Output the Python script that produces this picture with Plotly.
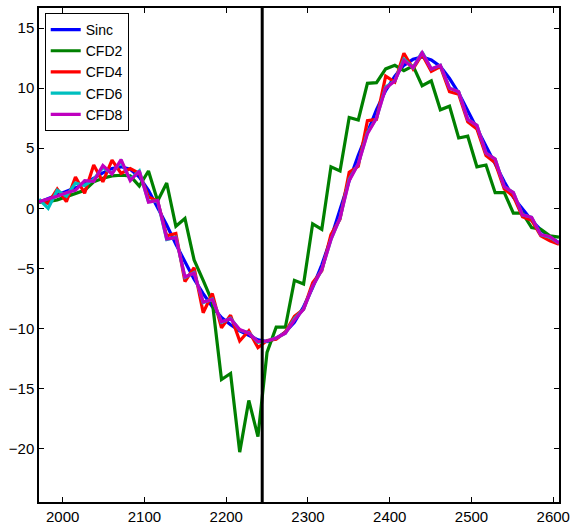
import plotly.graph_objects as go

x = [1971.0, 1982.2, 1993.3, 2004.5, 2015.6, 2026.8, 2037.9, 2049.1, 2060.3, 2071.4,
     2082.6, 2093.7, 2104.9, 2116.1, 2127.2, 2138.4, 2149.5, 2160.7, 2171.8, 2183.0,
     2194.2, 2205.3, 2216.5, 2227.6, 2238.8, 2249.9, 2261.1, 2272.3, 2283.4, 2294.6,
     2305.7, 2316.9, 2328.1, 2339.2, 2350.4, 2361.5, 2372.7, 2383.8, 2395.0, 2406.2,
     2417.3, 2428.5, 2439.6, 2450.8, 2461.9, 2473.1, 2484.3, 2495.4, 2506.6, 2517.7,
     2528.9, 2540.1, 2551.2, 2562.4, 2573.5, 2584.7, 2595.8, 2607.0]

sinc = [0.5, 0.8, 1.05, 1.35, 1.7, 2.05, 2.5, 2.95, 3.3, 3.45,
        3.25, 2.6, 1.5, 0.1, -1.4, -3.0, -4.5, -5.9, -7.1, -8.2,
        -9.1, -9.7, -10.2, -10.6, -10.95, -11.1, -10.85, -10.3, -9.5, -8.2,
        -6.6, -4.7, -2.5, -0.1, 2.3, 4.4, 6.4, 8.2, 9.8, 11.0,
        11.9, 12.4, 12.6, 12.35, 11.8, 10.8, 9.6, 8.1, 6.6, 5.1,
        3.6, 2.2, 0.9, -0.1, -1.0, -1.8, -2.4, -2.85]

cfd2 = [0.5, 0.55, 0.7, 0.95, 1.25, 1.5, 2.2, 2.5, 2.7, 2.75,
        2.7, 1.85, 3.1, 0.6, 2.1, -1.5, -0.85, -4.3, -6.0, -7.8,
        -14.25, -13.75, -20.3, -16.0, -19.0, -12.0, -9.9, -9.9, -6.0, -6.3,
        -1.3, -1.75, 3.45, 3.1, 7.55, 7.35, 10.4, 10.45, 11.6, 11.9,
        11.45, 11.85, 10.2, 10.6, 8.2, 8.5, 5.85, 6.0, 3.45, 3.6,
        1.3, 1.3, -0.4, -0.4, -1.6, -1.75, -2.3, -2.4]

cfd4 = [0.6, 0.4, 1.6, 0.55, 2.6, 1.25, 3.6, 2.2, 4.0, 2.9,
        3.3, 2.9, 0.95, 0.6, -2.3, -2.1, -6.1, -4.95, -8.7, -7.1,
        -9.95, -8.9, -11.05, -10.2, -11.6, -11.0, -10.9, -10.3, -9.0, -8.4,
        -6.2, -5.2, -2.2, -0.9, 3.0, 3.5, 7.3, 7.4, 11.0, 10.5,
        12.9, 11.6, 12.8, 11.4, 11.8, 9.7, 9.5, 7.2, 6.6, 4.4,
        3.8, 1.6, 1.0, -0.7, -1.0, -2.3, -2.7, -3.0]

cfd6 = [0.75, 0.0, 1.5, 1.0, 2.1, 1.9, 2.4, 3.4, 2.9, 3.9,
        2.4, 3.1, 0.55, 0.6, -2.6, -2.4, -5.75, -5.35, -7.85, -7.55,
        -9.5, -9.15, -10.15, -10.35, -11.15, -11.05, -10.8, -10.4, -9.2, -8.4,
        -6.5, -5.1, -2.6, -0.8, 2.4, 3.7, 6.3, 7.5, 10.1, 10.6,
        12.4, 11.7, 13.0, 11.6, 11.9, 10.0, 9.7, 7.4, 6.9, 4.6,
        4.1, 1.8, 1.3, -0.55, -0.75, -2.2, -2.4, -2.9]

cfd8 = [0.55, 0.75, 1.0, 1.3, 1.5, 2.3, 2.25, 3.55, 2.85, 4.05,
        2.3, 3.1, 0.5, 0.65, -2.55, -2.45, -5.7, -5.4, -7.8, -7.6,
        -9.45, -9.2, -10.1, -10.4, -11.1, -11.05, -10.8, -10.4, -9.3, -8.4,
        -6.5, -5.1, -2.6, -0.8, 2.3, 3.7, 6.2, 7.5, 10.0, 10.6,
        12.3, 11.7, 12.95, 11.6, 11.9, 10.0, 9.7, 7.4, 6.9, 4.6,
        4.1, 1.8, 1.3, -0.55, -0.75, -2.2, -2.35, -2.9]

series_names = ["Sinc", "CFD2", "CFD4", "CFD6", "CFD8"]
series_colors = ["#0000FF", "#008000", "#FF0000", "#00BFBF", "#BF00BF"]
series_values = [sinc, cfd2, cfd4, cfd6, cfd8]

vline_x = 2244
x_range = [1971, 2607]
y_range = [-24.45, 16.67]
x_ticks = [2000, 2100, 2200, 2300, 2400, 2500, 2600]
y_ticks = [-20, -15, -10, -5, 0, 5, 10, 15]

fig = go.Figure()
for name, color, vals in zip(series_names, series_colors, series_values):
    fig.add_trace(go.Scatter(x=x, y=vals, mode="lines", name=name,
                             line=dict(color=color, width=3.2)))

fig.add_vline(x=vline_x, line=dict(color="black", width=3))

font_family = "Liberation Sans, Arial, sans-serif"
axis_common = dict(showgrid=False, zeroline=False, showline=True, linecolor="black",
                   linewidth=1.5, mirror="ticks", ticks="inside", ticklen=5,
                   tickcolor="black", tickwidth=1, automargin=False,
                   tickfont=dict(family=font_family, size=15, color="black"))

fig.update_layout(
    width=575, height=524,
    margin=dict(l=39, r=16, t=8, b=22),
    paper_bgcolor="white", plot_bgcolor="white",
    xaxis=dict(range=x_range, tickvals=x_ticks, **axis_common),
    yaxis=dict(range=y_range, tickvals=y_ticks, **axis_common),
    legend=dict(x=0.011, y=0.99, xanchor="left", yanchor="top",
                bgcolor="white", bordercolor="black", borderwidth=1,
                itemwidth=30, tracegroupgap=0,
                font=dict(family=font_family, size=14, color="black")),
    showlegend=True,
)

fig.write_html("out.html")
